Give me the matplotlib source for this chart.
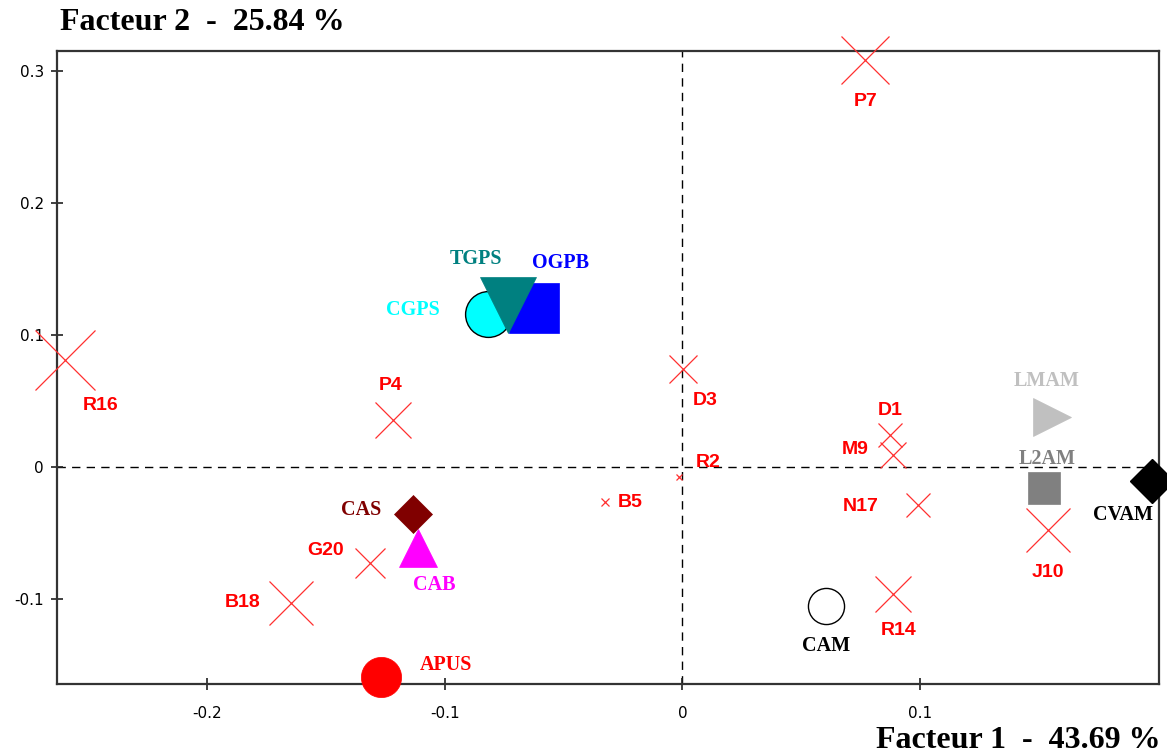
import matplotlib
matplotlib.use("Agg")
import matplotlib.pyplot as plt

# ---- Active individuals (red crosses) ----
act_names = ["P7", "R16", "P4", "D3", "R2", "B5", "D1", "M9", "N17", "J10", "R14", "G20", "B18"]
act_x = [0.0769, -0.2597, -0.1218, 0.0004, -0.0013, -0.0324, 0.0874, 0.0887, 0.0992, 0.1538, 0.0887, -0.1315, -0.1647]
act_y = [0.3083, 0.0810, 0.0356, 0.0742, -0.0076, -0.0265, 0.0242, 0.0091, -0.0288, -0.0477, -0.0962, -0.0727, -0.1030]
# relative quality -> cross size (pixels)
act_size = [48, 60, 36, 28, 6, 8, 24, 26, 24, 44, 36, 30, 44]
# label offsets (pixels)
act_off = [(0, -41), (36, -45), (-2, 35), (22, -31), (29, 15), (25, -1), (0, 25),
           (-38, 6), (-58, -1), (0, -43), (5, -37), (-44, 12), (-48, 0)]

# ---- Supplementary points ----
sup_names = ["CGPS", "OGPB", "TGPS", "LMAM", "L2AM", "CVAM", "CAM", "CAB", "CAS", "APUS"]
sup_x = [-0.0819, -0.0626, -0.0735, 0.1555, 0.1521, 0.1975, 0.0605, -0.1113, -0.1134, -0.1269]
sup_y = [0.1159, 0.1205, 0.1227, 0.0379, -0.0159, -0.0106, -0.1053, -0.0614, -0.0356, -0.1591]
sup_marker = ["o", "s", "v", ">", "s", "D", "o", "^", "D", "o"]
sup_msize = [33, 36, 40, 27, 23, 22, 26, 27, 19, 29]
sup_face = ["#00FFFF", "#0000FF", "#008080", "#C0C0C0", "#808080", "#000000", "#FFFFFF", "#FF00FF", "#800000", "#FF0000"]
sup_edge = ["#000000", "#0000FF", "#008080", "#C0C0C0", "#808080", "#000000", "#000000", "#FF00FF", "#800000", "#FF0000"]
sup_text = ["#00FFFF", "#0000FF", "#008080", "#C0C0C0", "#808080", "#000000", "#000000", "#FF00FF", "#800000", "#FF0000"]
sup_off = [(-75, 4), (27, 45), (-32, 46), (-6, 36), (3, 29), (-29, -34), (0, -40), (16, -37), (-52, 4), (65, 12)]

xticks = [-0.2, -0.1, 0.0, 0.1]
xtick_labels = ["-0.2", "-0.1", "0", "0.1"]
yticks = [-0.1, 0.0, 0.1, 0.2, 0.3]
ytick_labels = ["-0.1", "0", "0.1", "0.2", "0.3"]
title_y = "Facteur 2  -  25.84 %"
title_x = "Facteur 1  -  43.69 %"

fig = plt.figure(figsize=(11.67, 7.56), dpi=100)
ax = fig.add_axes([57 / 1167, 1 - 684 / 756, (1159 - 57) / 1167, (684 - 51) / 756])
ax.set_xlim(-0.263, 0.2004)
ax.set_ylim(-0.1644, 0.3152)

# dashed axes lines
ax.axhline(0, color="black", lw=1.0, ls=(0, (6, 4.5)), zorder=1)
ax.axvline(0, color="black", lw=1.0, ls=(0, (6, 4.5)), zorder=1)

px2pt = 0.72
for n, x, y, s, off in zip(act_names, act_x, act_y, act_size, act_off):
    ax.plot(x, y, marker="x", ms=s * px2pt, mew=0.9, color="#FF3030", ls="none",
            clip_on=False, zorder=3)
    ax.annotate(n, (x, y), xytext=off, textcoords="offset pixels", ha="center", va="center",
                color="#FF0000", fontsize=14, fontweight="bold", family="Liberation Sans",
                annotation_clip=False, zorder=5)

for n, x, y, m, ms, fc, ec, tc, off in zip(sup_names, sup_x, sup_y, sup_marker, sup_msize,
                                           sup_face, sup_edge, sup_text, sup_off):
    ax.plot(x, y, marker=m, ms=ms, mfc=fc, mec=ec, mew=1.0 if ec == "#000000" else 0.5,
            ls="none", clip_on=False, zorder=4)
    ax.annotate(n, (x, y), xytext=off, textcoords="offset pixels", ha="center", va="center",
                color=tc, fontsize=14.5, fontweight="bold", family="Liberation Serif",
                annotation_clip=False, zorder=5)

ax.set_xticks(xticks)
ax.set_xticklabels(xtick_labels)
ax.set_yticks(yticks)
ax.set_yticklabels(ytick_labels)
ax.tick_params(direction="inout", length=9, width=1.2, color="#202020", labelsize=11)
ax.tick_params(axis="y", pad=5)
ax.tick_params(axis="x", pad=11)
for lab in ax.get_xticklabels() + ax.get_yticklabels():
    lab.set_family("DejaVu Sans")

for sp in ax.spines.values():
    sp.set_linewidth(1.6)
    sp.set_color("#333333")

fig.text(60 / 1167, 1 - 22 / 756, title_y, ha="left", va="center", fontsize=23,
         fontweight="bold", family="Liberation Serif")
fig.text(1161 / 1167, 1 - 740 / 756, title_x, ha="right", va="center", fontsize=23,
         fontweight="bold", family="Liberation Serif")

fig.savefig("out.png", dpi=100)
